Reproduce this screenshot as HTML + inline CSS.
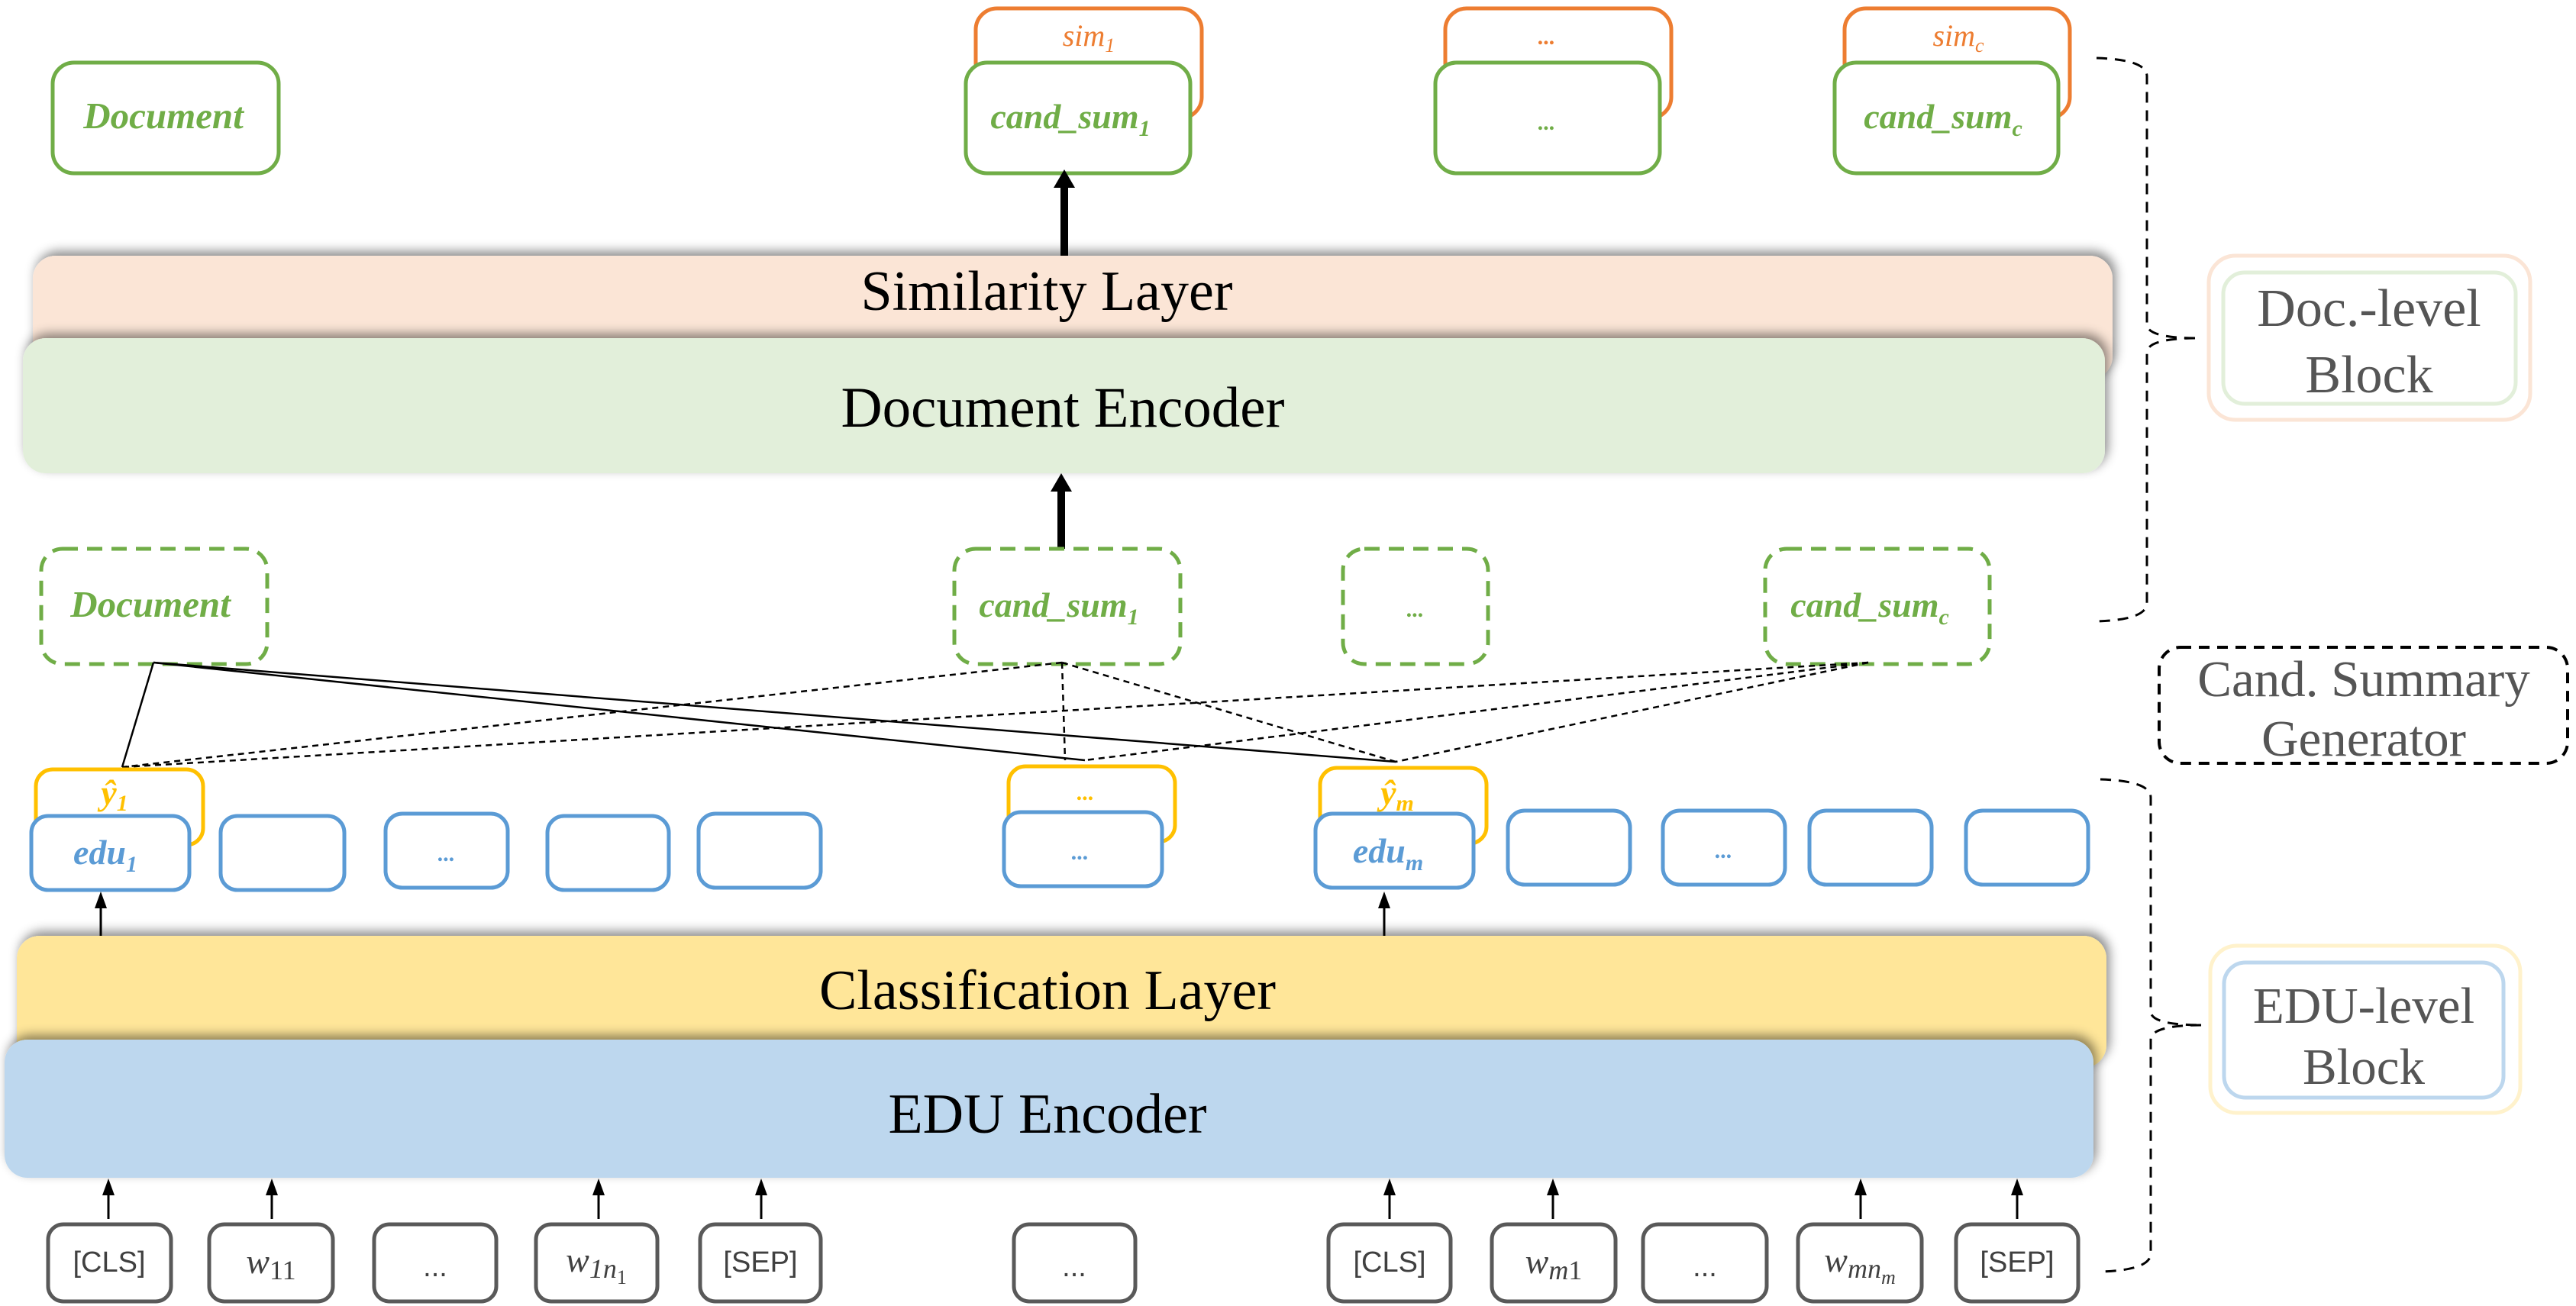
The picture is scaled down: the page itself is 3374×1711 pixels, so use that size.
<!DOCTYPE html>
<html><head><meta charset="utf-8"><style>html,body{margin:0;padding:0;background:#fff}svg{display:block}</style></head><body>
<svg width="3374" height="1711" viewBox="0 0 3374 1711" xmlns="http://www.w3.org/2000/svg" font-family="Liberation Serif, serif">
<defs>
<filter id="sh" x="-5%" y="-30%" width="110%" height="160%"><feDropShadow dx="4" dy="-6" stdDeviation="7" flood-color="#000" flood-opacity="0.45"/></filter>
</defs>
<g font-style="italic" font-weight="bold" font-size="46" text-anchor="middle">
<rect x="69" y="82" width="296" height="145" rx="28" fill="#fff" stroke="#70ad47" stroke-width="5"/>
<text x="214" y="168" fill="#70ad47" font-size="49">Document</text>
<rect x="1278" y="11" width="296" height="144" rx="28" fill="#fff" stroke="#ed7d31" stroke-width="5"/>
<text x="1426" y="60" fill="#ed7d31" font-weight="normal" font-size="40">sim<tspan font-size="26" dy="8">1</tspan></text>
<rect x="1265" y="82" width="294" height="145" rx="28" fill="#fff" stroke="#70ad47" stroke-width="5"/>
<text x="1402" y="168" fill="#70ad47">cand_sum<tspan font-size="30" dy="10">1</tspan></text>
<rect x="1893" y="11" width="296" height="144" rx="28" fill="#fff" stroke="#ed7d31" stroke-width="5"/>
<text x="2026" y="58" fill="#ed7d31" font-size="30">...</text>
<rect x="1880" y="82" width="294" height="145" rx="28" fill="#fff" stroke="#70ad47" stroke-width="5"/>
<text x="2026" y="170" fill="#70ad47" font-size="30">...</text>
<rect x="2416" y="11" width="295" height="144" rx="28" fill="#fff" stroke="#ed7d31" stroke-width="5"/>
<text x="2565" y="60" fill="#ed7d31" font-weight="normal" font-size="40">sim<tspan font-size="26" dy="8">c</tspan></text>
<rect x="2403" y="82" width="293" height="145" rx="28" fill="#fff" stroke="#70ad47" stroke-width="5"/>
<text x="2545" y="168" fill="#70ad47">cand_sum<tspan font-size="30" dy="10">c</tspan></text>
</g>
<line x1="1394" y1="335" x2="1394" y2="240" stroke="#000" stroke-width="10"/>
<path d="M1380,246 L1394,222 L1408,246 Z" fill="#000"/>
<rect x="43" y="335" width="2724" height="162" rx="30" fill="#fbe5d6" filter="url(#sh)"/>
<text x="1371" y="406" font-size="74" text-anchor="middle" fill="#000">Similarity Layer</text>
<rect x="30" y="443" width="2727" height="177" rx="30" fill="#e2efda" filter="url(#sh)"/>
<text x="1392" y="559" font-size="75" text-anchor="middle" fill="#000">Document Encoder</text>
<line x1="1390" y1="719" x2="1390" y2="640" stroke="#000" stroke-width="10"/>
<path d="M1376,644 L1390,620 L1404,644 Z" fill="#000"/>
<g fill="#fff" stroke="#70ad47" stroke-width="5" stroke-dasharray="20,12">
<rect x="54" y="719" width="296" height="151" rx="28"/>
<rect x="1250" y="719" width="296" height="151" rx="28"/>
<rect x="1759" y="719" width="190" height="151" rx="28"/>
<rect x="2312" y="719" width="294" height="151" rx="28"/>
</g>
<g font-style="italic" font-weight="bold" font-size="46" text-anchor="middle" fill="#70ad47">
<text x="197" y="808" font-size="49">Document</text>
<text x="1387" y="808">cand_sum<tspan font-size="30" dy="10">1</tspan></text>
<text x="1854" y="808" font-size="30">...</text>
<text x="2449" y="808">cand_sum<tspan font-size="30" dy="10">c</tspan></text>
</g>
<g stroke="#000" stroke-width="2.5" fill="none">
<line x1="201" y1="868" x2="160" y2="1005"/>
<line x1="201" y1="868" x2="1421" y2="996"/>
<line x1="201" y1="868" x2="1828" y2="998"/>
</g>
<g stroke="#000" stroke-width="2.5" fill="none" stroke-dasharray="8,6">
<line x1="1391" y1="868" x2="160" y2="1005"/>
<line x1="1391" y1="868" x2="1395" y2="996"/>
<line x1="1391" y1="868" x2="1828" y2="998"/>
<line x1="2447" y1="868" x2="160" y2="1005"/>
<line x1="2447" y1="868" x2="1421" y2="996"/>
<line x1="2447" y1="868" x2="1828" y2="998"/>
</g>
<g fill="#fff" stroke-width="5">
<rect x="47" y="1008" width="219" height="99" rx="22" stroke="#ffc000"/>
<rect x="1321" y="1004" width="218" height="99" rx="22" stroke="#ffc000"/>
<rect x="1729" y="1006" width="218" height="99" rx="22" stroke="#ffc000"/>
<g stroke="#5b9bd5">
<rect x="41" y="1069" width="207" height="97" rx="22"/>
<rect x="289" y="1069" width="162" height="97" rx="22"/>
<rect x="505" y="1066" width="160" height="97" rx="22"/>
<rect x="717" y="1069" width="159" height="97" rx="22"/>
<rect x="915" y="1066" width="160" height="97" rx="22"/>
<rect x="1315" y="1064" width="207" height="97" rx="22"/>
<rect x="1723" y="1066" width="207" height="97" rx="22"/>
<rect x="1975" y="1062" width="160" height="97" rx="22"/>
<rect x="2178" y="1062" width="160" height="97" rx="22"/>
<rect x="2370" y="1062" width="160" height="97" rx="22"/>
<rect x="2575" y="1062" width="160" height="97" rx="22"/>
</g>
</g>
<g font-style="italic" font-weight="bold" font-size="46" text-anchor="middle">
<text x="150" y="1054" fill="#ffc000">ŷ<tspan font-size="30" dy="8">1</tspan></text>
<text x="1422" y="1048" fill="#ffc000" font-size="30">...</text>
<text x="1830" y="1054" fill="#ffc000">ŷ<tspan font-size="30" dy="8">m</tspan></text>
<g fill="#5b9bd5">
<text x="138" y="1132">edu<tspan font-size="30" dy="10">1</tspan></text>
<text x="585" y="1128" font-size="30">...</text>
<text x="1415" y="1126" font-size="30">...</text>
<text x="1818" y="1130">edu<tspan font-size="30" dy="10">m</tspan></text>
<text x="2258" y="1124" font-size="30">...</text>
</g>
</g>
<g stroke="#000" stroke-width="3">
<line x1="132" y1="1230" x2="132" y2="1185"/>
<line x1="1813" y1="1230" x2="1813" y2="1185"/>
</g>
<path d="M124,1190 L132,1168 L140,1190 Z M1805,1190 L1813,1168 L1821,1190 Z" fill="#000"/>
<rect x="22" y="1226" width="2737" height="173" rx="30" fill="#ffe699" filter="url(#sh)"/>
<text x="1372" y="1322" font-size="74" text-anchor="middle" fill="#000">Classification Layer</text>
<rect x="6" y="1362" width="2736" height="181" rx="30" fill="#bdd7ee" filter="url(#sh)"/>
<text x="1372" y="1484" font-size="74" text-anchor="middle" fill="#000">EDU Encoder</text>
<g stroke="#000" stroke-width="3">
<line x1="142" y1="1597" x2="142" y2="1560"/><line x1="356" y1="1597" x2="356" y2="1560"/>
<line x1="784" y1="1597" x2="784" y2="1560"/><line x1="997" y1="1597" x2="997" y2="1560"/>
<line x1="1820" y1="1597" x2="1820" y2="1560"/><line x1="2034" y1="1597" x2="2034" y2="1560"/>
<line x1="2437" y1="1597" x2="2437" y2="1560"/><line x1="2642" y1="1597" x2="2642" y2="1560"/>
</g>
<g fill="#000">
<path d="M134,1566 L142,1544 L150,1566 Z"/><path d="M348,1566 L356,1544 L364,1566 Z"/>
<path d="M776,1566 L784,1544 L792,1566 Z"/><path d="M989,1566 L997,1544 L1005,1566 Z"/>
<path d="M1812,1566 L1820,1544 L1828,1566 Z"/><path d="M2026,1566 L2034,1544 L2042,1566 Z"/>
<path d="M2429,1566 L2437,1544 L2445,1566 Z"/><path d="M2634,1566 L2642,1544 L2650,1566 Z"/>
</g>
<g fill="#fff" stroke="#595959" stroke-width="5">
<rect x="63" y="1604" width="161" height="101" rx="20"/>
<rect x="274" y="1604" width="162" height="101" rx="20"/>
<rect x="490" y="1604" width="160" height="101" rx="20"/>
<rect x="702" y="1604" width="159" height="101" rx="20"/>
<rect x="917" y="1604" width="158" height="101" rx="20"/>
<rect x="1328" y="1604" width="159" height="101" rx="20"/>
<rect x="1740" y="1604" width="160" height="101" rx="20"/>
<rect x="1954" y="1604" width="162" height="101" rx="20"/>
<rect x="2152" y="1604" width="162" height="101" rx="20"/>
<rect x="2355" y="1604" width="162" height="101" rx="20"/>
<rect x="2562" y="1604" width="160" height="101" rx="20"/>
</g>
<g fill="#404040" font-size="38" text-anchor="middle" font-family="Liberation Sans, sans-serif">
<text x="143" y="1666">[CLS]</text>
<text x="570" y="1672">...</text>
<text x="996" y="1666">[SEP]</text>
<text x="1407" y="1672">...</text>
<text x="1820" y="1666">[CLS]</text>
<text x="2233" y="1672">...</text>
<text x="2642" y="1666">[SEP]</text>
</g>
<g fill="#404040" font-size="46" text-anchor="middle" font-style="italic">
<text x="355" y="1668">w<tspan font-style="normal" font-size="36" dy="8">11</tspan></text>
<text x="781" y="1666">w<tspan font-size="36" dy="8">1n</tspan><tspan font-style="normal" font-size="26" dy="8">1</tspan></text>
<text x="2035" y="1668">w<tspan font-size="36" dy="8">m</tspan><tspan font-style="normal" font-size="36">1</tspan></text>
<text x="2436" y="1666">w<tspan font-size="36" dy="8">mn</tspan><tspan font-size="26" dy="8">m</tspan></text>
</g>
<g stroke="#000" stroke-width="3" fill="none" stroke-dasharray="14,10">
<path d="M2746,76 Q2812,78 2812,100 L2812,425 Q2812,443 2880,443 Q2812,443 2812,462 L2812,790 Q2812,812 2746,814"/>
<path d="M2751,1021 Q2817,1023 2817,1045 L2817,1325 Q2817,1343 2885,1343 Q2817,1343 2817,1362 L2817,1642 Q2817,1664 2751,1666"/>
<rect x="2828" y="848" width="535" height="152" rx="28" stroke-width="4"/>
</g>
<rect x="2893" y="335" width="421" height="215" rx="35" fill="#fff" stroke="#fbe5d6" stroke-width="5"/>
<rect x="2912" y="357" width="383" height="172" rx="28" fill="#fff" stroke="#e2efda" stroke-width="5"/>
<text x="3103" y="427" font-size="70" text-anchor="middle" fill="#555">Doc.-level</text>
<text x="3103" y="514" font-size="70" text-anchor="middle" fill="#555">Block</text>
<text x="3096" y="912" font-size="67" text-anchor="middle" fill="#555">Cand. Summary</text>
<text x="3096" y="990" font-size="67" text-anchor="middle" fill="#555">Generator</text>
<rect x="2895" y="1239" width="406" height="219" rx="35" fill="#fff" stroke="#fff2cc" stroke-width="5"/>
<rect x="2913" y="1261" width="366" height="177" rx="28" fill="#fff" stroke="#bdd7ee" stroke-width="5"/>
<text x="3096" y="1340" font-size="67" text-anchor="middle" fill="#555">EDU-level</text>
<text x="3096" y="1420" font-size="67" text-anchor="middle" fill="#555">Block</text>
</svg>
</body></html>
